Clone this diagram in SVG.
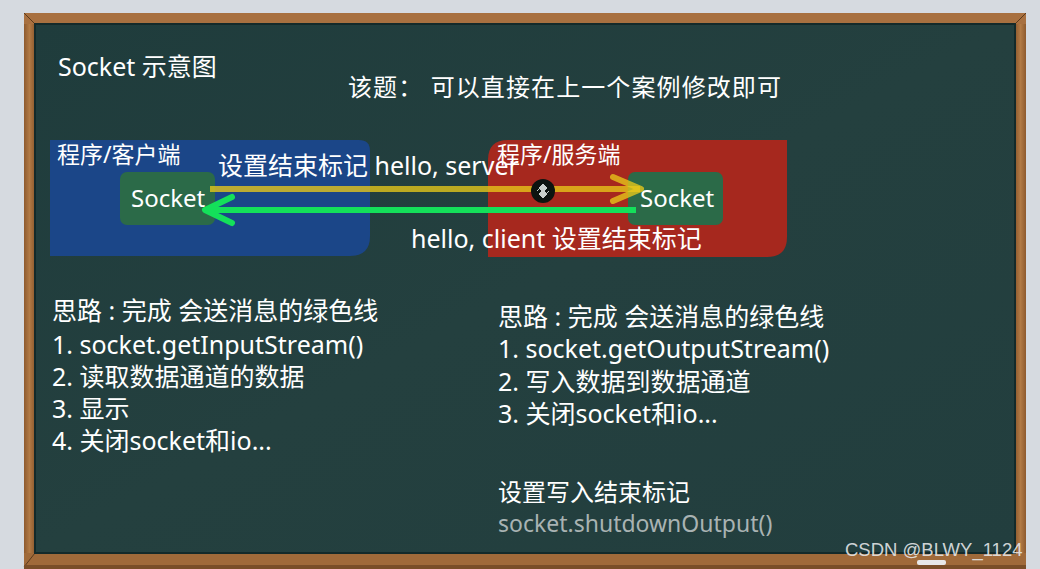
<svg xmlns="http://www.w3.org/2000/svg" width="1040" height="569" viewBox="0 0 1040 569">
  <defs>
    <linearGradient id="wood" x1="0" y1="0" x2="0" y2="1">
      <stop offset="0" stop-color="#b27a45"/>
      <stop offset="0.5" stop-color="#9c6535"/>
      <stop offset="1" stop-color="#8a5a30"/>
    </linearGradient>
    <linearGradient id="woodV" x1="0" y1="0" x2="1" y2="0">
      <stop offset="0" stop-color="#8e5a2e"/>
      <stop offset="0.5" stop-color="#b27a45"/>
      <stop offset="1" stop-color="#8e5a2e"/>
    </linearGradient>
    <linearGradient id="board" x1="0" y1="0" x2="1" y2="1">
      <stop offset="0" stop-color="#1f3c3c"/>
      <stop offset="0.5" stop-color="#24403f"/>
      <stop offset="1" stop-color="#223e3e"/>
    </linearGradient>
    <style>
      .t { font-family: "Noto Sans", "Noto Sans CJK SC", sans-serif; fill: #ffffff; }
      .s25 { font-size: 25px; }
      .s24 { font-size: 24px; }
      .s23 { font-size: 23px; }
      .gray { fill: #a9b3b3; }
      .yline { stroke: #e8c81a; stroke-opacity: 0.78; stroke-width: 6; fill: none; }
      .gline { stroke: #14e05a; stroke-width: 6; fill: none; }
      .sock { fill: #2b6a48; }
    </style>
  </defs>

  <!-- background -->
  <rect x="0" y="0" width="1040" height="569" fill="#d6dae0"/>

  <!-- frame -->
  <rect x="24" y="13" width="1002" height="556" fill="url(#wood)"/>
  <rect x="24" y="13" width="11" height="556" fill="url(#woodV)"/>
  <rect x="1015" y="13" width="11" height="556" fill="url(#woodV)"/>
  <rect x="24" y="13" width="1002" height="11" fill="#a87040"/>
  <rect x="24" y="553" width="1002" height="14" fill="#a06a3a"/>
  <line x1="24" y1="13" x2="35" y2="24" stroke="#5a3a1c" stroke-width="1"/>
  <line x1="1026" y1="13" x2="1015" y2="24" stroke="#5a3a1c" stroke-width="1"/>
  <line x1="24" y1="567" x2="35" y2="553" stroke="#5a3a1c" stroke-width="1"/>
  <rect x="24" y="565" width="1002" height="4" fill="#7a4e28"/>
  <!-- board -->
  <rect x="35" y="24" width="980" height="529" fill="url(#board)"/>
  <rect x="35" y="24" width="980" height="529" fill="none" stroke="#142a2a" stroke-width="2"/>
  <!-- chalk -->
  <rect x="917" y="560" width="29" height="5" rx="2" fill="#e8e8e8"/>

  <!-- titles -->
  <text class="t" x="58" y="76" font-size="25">Socket 示意图</text>
  <text class="t" x="348" y="96" font-size="24" letter-spacing="1.1">该题： 可以直接在上一个案例修改即可</text>

  <!-- client node -->
  <g id="client">
    <path d="M50,140 H359 Q370,140 370,151 V236 Q370,256 350,256 H50 Z" fill="#1b4688"/>
    <text class="t s23" x="57" y="163">程序/客户端</text>
  </g>

  <!-- server node -->
  <g id="server">
    <path d="M508,140 H787 V237 Q787,257 767,257 H488 V160 Q488,140 508,140 Z" fill="#a6281e"/>
    <text class="t s23" x="497" y="163">程序/服务端</text>
  </g>

  <g id="client-socket">
    <rect class="sock" x="120" y="172" width="95" height="53" rx="7"/>
    <text class="t s24" x="131" y="207">Socket</text>
  </g>

  <g id="server-socket">
    <rect class="sock" x="628" y="172" width="95" height="53" rx="7"/>
    <text class="t s24" x="640" y="207">Socket</text>
  </g>

  <!-- connectors -->
  <g id="connectors">
    <line class="yline" x1="210" y1="189" x2="640" y2="189"/>
    <polyline class="yline" points="613,177 641,189 613,201" stroke-linecap="round" stroke-linejoin="round"/>
    <line class="gline" x1="206" y1="210" x2="636" y2="210"/>
    <polyline class="gline" points="232,197 205,210 232,223" stroke-linecap="round" stroke-linejoin="round"/>
  </g>

  <!-- connector labels -->
  <text class="t s25" x="218" y="175">设置结束标记 hello, server</text>
  <text class="t s25" x="411" y="248">hello, client 设置结束标记</text>

  <!-- cursor artifact -->
  <g id="cursor">
    <circle cx="543" cy="191" r="12" fill="#0c1410"/>
    <path d="M543,184 L547,188 L543,192 L539,188 Z M543,190 L547,194 L543,198 L539,194 Z M537,191 L541,187 M549,191 L545,195" fill="#c8d0cc" stroke="#c8d0cc" stroke-width="1"/>
  </g>

  <!-- left notes -->
  <g id="client-notes">
    <text class="t s25" x="52" y="320">思路 : 完成 会送消息的绿色线</text>
    <text class="t s25" x="52" y="354">1. socket.getInputStream()</text>
    <text class="t s25" x="52" y="386">2. 读取数据通道的数据</text>
    <text class="t s25" x="52" y="418">3. 显示</text>
    <text class="t s25" x="52" y="450">4. 关闭socket和io...</text>
  </g>

  <!-- right notes -->
  <g id="server-notes">
    <text class="t s25" x="498" y="326">思路 : 完成 会送消息的绿色线</text>
    <text class="t s25" x="498" y="358">1. socket.getOutputStream()</text>
    <text class="t s25" x="498" y="391">2. 写入数据到数据通道</text>
    <text class="t s25" x="498" y="423">3. 关闭socket和io...</text>
    <text class="t s24" x="498" y="501">设置写入结束标记</text>
    <text class="t s23 gray" x="498" y="532">socket.shutdownOutput()</text>
  </g>

  <!-- watermark -->
  <text x="845" y="556" font-family="Liberation Sans, Arial, sans-serif" font-size="18.5" fill="#e6e8ea" fill-opacity="0.9">CSDN @BLWY_1124</text>
</svg>
